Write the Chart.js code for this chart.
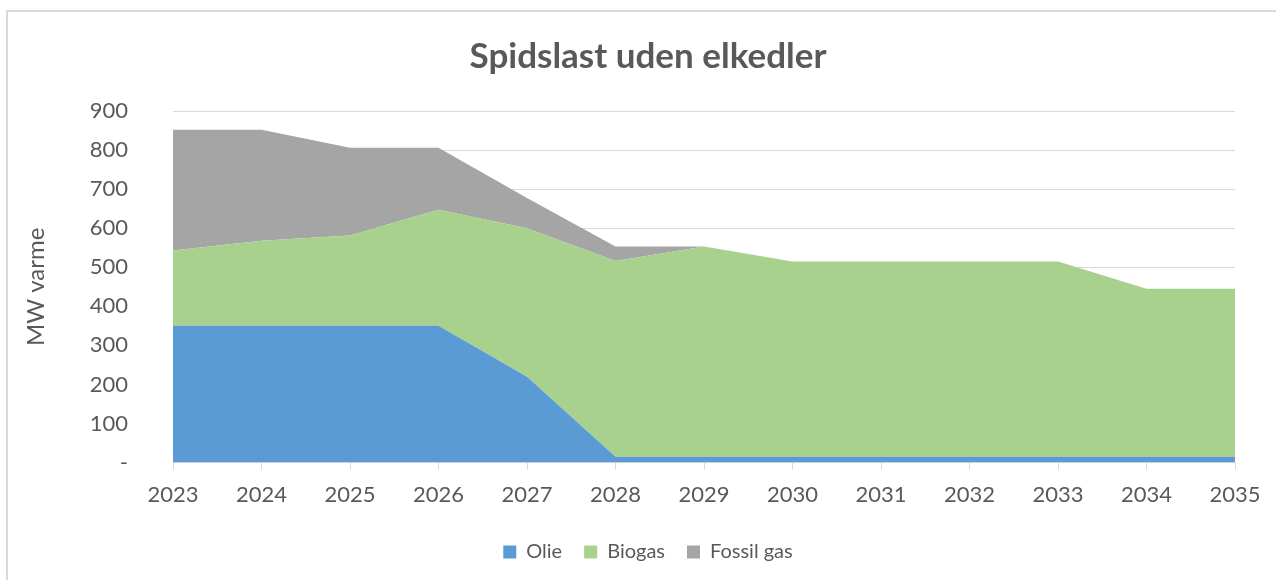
<!DOCTYPE html>
<html>
<head>
<meta charset="utf-8">
<script src="https://cdn.jsdelivr.net/npm/chart.js@4.4.0/dist/chart.umd.min.js"></script>
<style>
  html, body { margin: 0; padding: 0; background: #fff; overflow: hidden; }
  #ramme { position: absolute; left: 6px; top: 10px; width: 1300px; height: 600px; border: 2px solid #d9d9d9; box-sizing: border-box; }
  #wrap { position: absolute; left: 0; top: 0; width: 1276px; height: 580px; }
</style>
</head>
<body>
<div id="ramme"></div>
<div id="wrap"><canvas id="spidslastChart" width="1276" height="580"></canvas></div>
<script>
// Data (MW varme)
const aar = ['2023', '2024', '2025', '2026', '2027', '2028', '2029', '2030', '2031', '2032', '2033', '2034', '2035'];
const olie = [350, 350, 350, 350, 220, 15, 15, 15, 15, 15, 15, 15, 15];
const biogas = [193, 218, 231, 297, 380, 501, 538, 500, 500, 500, 500, 430, 430];
const fossilGas = [309, 284, 225, 159, 77, 37, 0, 0, 0, 0, 0, 0, 0];
const yTicks = [0, 100, 200, 300, 400, 500, 600, 700, 800, 900];

const tekstFarve = '#595959';
const skrift = 'Lato, "Open Sans", sans-serif';

document.addEventListener('DOMContentLoaded', function () {
    const ctx = document.getElementById('spidslastChart').getContext('2d');

    const data = {
        labels: aar,
        datasets: [{
            label: 'Olie',
            data: olie,
            backgroundColor: '#5B9BD5',
            borderWidth: 0,
            pointRadius: 0,
            fill: 'origin'
        },
        {
            label: 'Biogas',
            data: biogas,
            backgroundColor: '#A9D18E',
            borderWidth: 0,
            pointRadius: 0,
            fill: '-1'
        },
        {
            label: 'Fossil gas',
            data: fossilGas,
            backgroundColor: '#A5A5A5',
            borderWidth: 0,
            pointRadius: 0,
            fill: '-1'
        }]
    };

    const config = {
        type: 'line',
        data: data,
        options: {
            responsive: false,
            animation: false,
            layout: {
                padding: { left: 61, right: 41, top: 36, bottom: 8 }
            },
            plugins: {
                title: {
                    display: true,
                    text: 'Spidslast uden elkedler',
                    color: tekstFarve,
                    font: { family: skrift, size: 35, weight: 'bold' },
                    padding: { top: 0, bottom: 33 }
                },
                legend: {
                    position: 'bottom',
                    labels: {
                        color: tekstFarve,
                        font: { family: skrift, size: 20 },
                        boxWidth: 13,
                        boxHeight: 13,
                        padding: 22
                    }
                },
                tooltip: { enabled: false }
            },
            scales: {
                x: {
                    offset: false,
                    grid: {
                        display: true,
                        drawOnChartArea: false,
                        drawTicks: true,
                        tickLength: 7,
                        color: '#d9d9d9'
                    },
                    border: { color: '#d9d9d9', width: 1 },
                    ticks: {
                        color: tekstFarve,
                        font: { family: skrift, size: 22 },
                        maxRotation: 0,
                        padding: 12
                    }
                },
                y: {
                    stacked: true,
                    min: 0,
                    max: 900,
                    afterBuildTicks: function (scale) {
                        scale.ticks = yTicks.map(function (v) { return { value: v }; });
                    },
                    afterFit: function (scale) { scale.width = 112; },
                    grid: { color: '#d9d9d9', drawTicks: false },
                    border: { display: false },
                    ticks: {
                        color: tekstFarve,
                        font: { family: skrift, size: 22 },
                        padding: 45,
                        callback: function (v) { return v === 0 ? '-' : v; }
                    },
                    title: {
                        display: true,
                        text: 'MW varme',
                        color: tekstFarve,
                        font: { family: skrift, size: 24 },
                        padding: { top: -39, bottom: 0 }
                    }
                }
            }
        }
    };

    new Chart(ctx, config);
});
</script>
</body>
</html>
